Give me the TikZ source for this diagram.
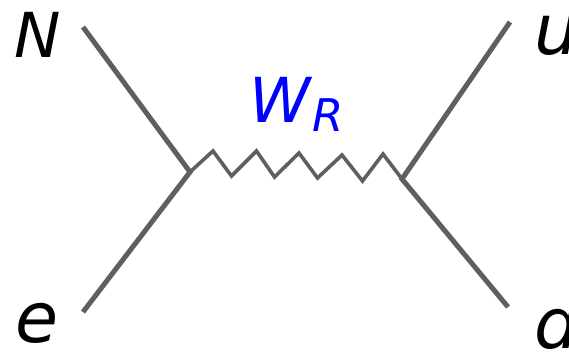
\documentclass[tikz,border=0pt]{standalone}
\usepackage{fontspec}
\setmainfont{DejaVu Sans}
\definecolor{linegray}{HTML}{5F5F5F}
\tikzset{fermion/.style={draw=linegray,line width=5pt},
boson/.style={draw=linegray,line width=3.6pt,line join=miter},
lbl/.style={font=\itshape\fontsize{70}{70}\selectfont,text=black,inner sep=0pt,anchor=base west},
capl/.style={font=\itshape\fontsize{62}{62}\selectfont,text=black,inner sep=0pt,anchor=base west},
wlbl/.style={inner sep=0pt,anchor=base west,text=blue,font=\itshape\fontsize{62}{62}\selectfont},
rlbl/.style={inner sep=0pt,anchor=base west,text=blue,font=\itshape\fontsize{45}{45}\selectfont}}
\begin{document}
\begin{tikzpicture}[x=1pt,y=-1pt]
\useasboundingbox (0,0) rectangle (569,351);
\clip (0,0) rectangle (569,351);
\coordinate (n) at (83,27);
\coordinate (e) at (83,312);
\coordinate (u) at (510,22);
\coordinate (d) at (508,307);
\coordinate (a) at (190,172);
\coordinate (b) at (402,179);
\draw[fermion] (n) -- (a) -- (e);
\draw[fermion] (u) -- (b) -- (d);
\draw[boson] (a) -- (213,151) -- (231.5,176) -- (256.5,151) -- (274.5,177) -- (299,153) -- (317.5,178) -- (342,155) -- (362.5,181) -- (383,154) -- (b);
\node[capl] (N) at (14,57) {N};
\node[lbl] (E) at (15.5,342) {e};
\node[lbl] (U) at (534.6,54) {u};
\node[lbl] (D) at (534.5,348) {d};
\node[wlbl] (W) at (249,122) {W};
\node[rlbl] (R) at (312,131) {R};
\end{tikzpicture}
\end{document}
